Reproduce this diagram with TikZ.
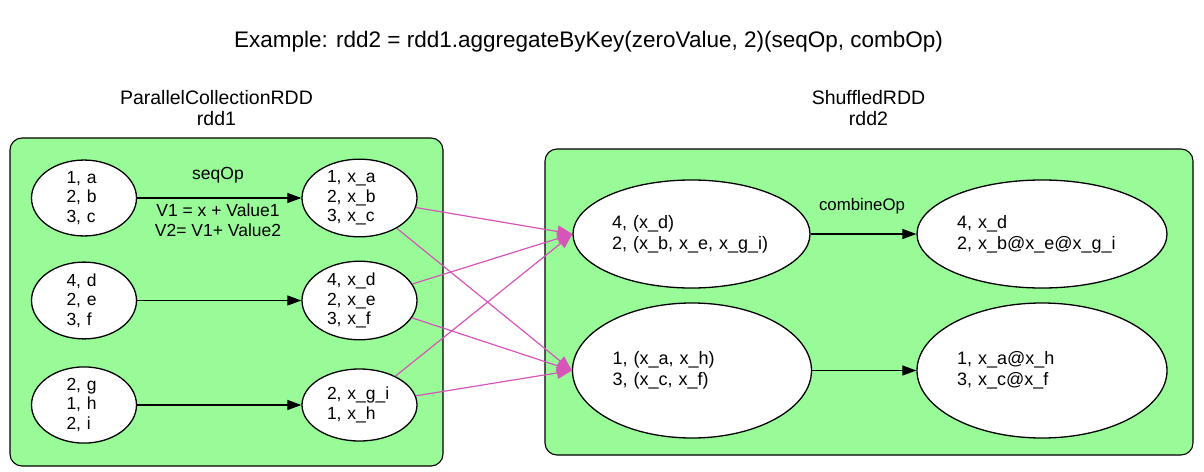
\documentclass[tikz,border=0pt]{standalone}
\usepackage{fontspec}
\setmainfont{Liberation Sans}
\usetikzlibrary{shapes.geometric,arrows.meta}
\definecolor{clgreen}{HTML}{98FB98}
\definecolor{edgepink}{RGB}{215,85,185}
\tikzset{
  cluster/.style={draw=black, line width=1.1pt, fill=clgreen, rounded corners=12pt},
  ell/.style={ellipse, draw=black, line width=1.3pt, fill=white, inner sep=0pt},
  lnode/.style={ell, font=\fontsize{17.5}{19.7}\selectfont},
  rnode/.style={ell, font=\fontsize{18}{21}\selectfont},
  blk/.style={draw=black, line width=1.2pt, -{Triangle[length=14pt,width=10pt]}},
  pink/.style={draw=edgepink, line width=1.2pt, -{Triangle[length=15pt,width=12pt]}},
  lbl/.style={inner sep=0pt, align=center},
}
\begin{document}
\begin{tikzpicture}[x=1pt,y=-1pt]
\useasboundingbox (0,0) rectangle (1204,471);
% title
\node[lbl, font=\fontsize{22.5}{26}\selectfont] (title) at (588.5,42) {Example: rdd2 = rdd1.aggregateByKey(zeroValue, 2)(seqOp, combOp)};
% clusters
\draw[cluster] (10,138) rectangle (443,466);
\draw[cluster] (545,149) rectangle (1193,455);
\node[lbl, font=\fontsize{19.5}{21}\selectfont] (lab1) at (216.5,108) {ParallelCollectionRDD\\rdd1};
\node[lbl, font=\fontsize{19.5}{21}\selectfont] (lab2) at (868.5,108) {ShuffledRDD\\rdd2};
% left column
\node[lnode, minimum width=105pt, minimum height=70pt, text width=35pt, align=left] (a1) at (84,198) {1, a\\2, b\\3, c};
\node[lnode, minimum width=105pt, minimum height=75pt, text width=35pt, align=left] (a2) at (84,300.5) {4, d\\2, e\\3, f};
\node[lnode, minimum width=105pt, minimum height=74pt, text width=35pt, align=left] (a3) at (84,405) {2, g\\1, h\\2, i};
% second column
\node[lnode, minimum width=115pt, minimum height=70pt, text width=65pt, align=left] (b1) at (359.5,198) {1, x\_a\\2, x\_b\\3, x\_c};
\node[lnode, minimum width=115pt, minimum height=75pt, text width=65pt, align=left] (b2) at (359.5,300.5) {4, x\_d\\2, x\_e\\3, x\_f};
\node[lnode, minimum width=115pt, minimum height=72pt, text width=65pt, align=left] (b3) at (359.5,405) {2, x\_g\_i\\1, x\_h};
% shuffled
\node[rnode, minimum width=237pt, minimum height=108pt, text width=159pt, align=left] (c1) at (691.5,234) {4, (x\_d)\\2, (x\_b, x\_e, x\_g\_i)};
\node[rnode, minimum width=239pt, minimum height=135pt, text width=159pt, align=left] (c2) at (692,370.5) {1, (x\_a, x\_h)\\3, (x\_c, x\_f)};
\node[rnode, minimum width=250pt, minimum height=108pt, text width=170pt, align=left] (d1) at (1042,234) {4, x\_d\\2, x\_b@x\_e@x\_g\_i};
\node[rnode, minimum width=250pt, minimum height=135pt, text width=170pt, align=left] (d2) at (1042,370.5) {1, x\_a@x\_h\\3, x\_c@x\_f};
% black edges
\draw[blk] (a1) -- (b1);
\draw[blk] (a2) -- (b2);
\draw[blk] (a3) -- (b3);
\draw[blk] (c1) -- (d1);
\draw[blk] (c2) -- (d2);
% edge labels
\node[lbl, font=\fontsize{17.5}{20}\selectfont] (seq) at (218,175) {seqOp};
\node[lbl, font=\fontsize{17.5}{20}\selectfont] (vv) at (218,220) {V1 = x + Value1\\V2= V1+ Value2};
\node[lbl, font=\fontsize{16.8}{20}\selectfont] (comb) at (862,206) {combineOp};
% pink edges
\draw[pink] (b1) -- (c1.west);
\draw[pink] (b1) -- (c2.west);
\draw[pink] (b2) -- (c1.west);
\draw[pink] (b2) -- (c2.west);
\draw[pink] (b3) -- (c1.west);
\draw[pink] (b3) -- (c2.west);
\end{tikzpicture}
\end{document}
